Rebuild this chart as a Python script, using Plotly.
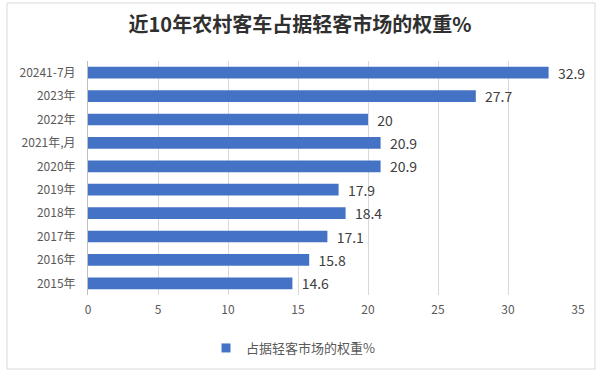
import plotly.graph_objects as go

categories = ["2015年", "2016年", "2017年", "2018年", "2019年", "2020年", "2021年,月", "2022年", "2023年", "20241-7月"]
values = [14.6, 15.8, 17.1, 18.4, 17.9, 20.9, 20.9, 20, 27.7, 32.9]
labels = ["14.6", "15.8", "17.1", "18.4", "17.9", "20.9", "20.9", "20", "27.7", "32.9"]
series_name = "占据轻客市场的权重%"
title = "近10年农村客车占据轻客市场的权重%"

font_family = "Noto Sans CJK SC, Noto Sans, sans-serif"
bar_color = "#4472C4"

fig = go.Figure()
fig.add_trace(go.Bar(
    y=categories, x=values, orientation="h", name=series_name, showlegend=False,
    marker=dict(color=bar_color, line=dict(width=0)),
    text=labels, texttemplate="\u00a0\u00a0%{text}", textposition="outside",
    cliponaxis=False, constraintext="none",
    textfont=dict(size=14, color="#404040", family=font_family),
))
# legend entry (square swatch like the original)
fig.add_trace(go.Scatter(
    x=[None], y=[None], mode="markers", name=series_name, showlegend=True,
    marker=dict(symbol="square", size=9, color=bar_color),
))

L, R, T, B = 88, 22, 61, 80
W, H = 600, 375
pw, ph = W - L - R, H - T - B
def px(x): return (x - L) / pw
def py(y): return 1 - (y - T) / ph

fig.update_layout(
    width=W, height=H,
    margin=dict(l=L, r=R, t=T, b=B, autoexpand=False),
    paper_bgcolor="white", plot_bgcolor="white",
    font=dict(family=font_family, color="#595959", size=12),
    title=dict(text="<b>" + title + "</b>", x=0.5, xanchor="center", y=1 - 25 / H, yanchor="middle",
               font=dict(size=20, color="#303030", family=font_family)),
    bargap=0.5,
    showlegend=True,
    legend=dict(orientation="h", x=px(293), xanchor="center", y=py(348), yanchor="middle",
                font=dict(size=13, color="#595959")),
    xaxis=dict(range=[0, 35], dtick=5, showgrid=True, gridcolor="#D9D9D9", gridwidth=1,
               zeroline=False, showline=False, ticks="", automargin=False,
               ticklabelstandoff=6, tickfont=dict(size=12, color="#595959")),
    yaxis=dict(type="category", showgrid=False, showline=True, linecolor="#BFBFBF", linewidth=1, ticks="",
               automargin=False, ticklabelstandoff=9, tickfont=dict(size=12, color="#595959")),
    shapes=[dict(type="rect", xref="paper", yref="paper",
                 x0=px(7), x1=px(595), y0=py(369), y1=py(3),
                 line=dict(color="#D9D9D9", width=1))],
)

fig.write_html("out.html", config={"displayModeBar": False},
               post_script="document.body.style.margin='0';document.body.style.overflow='hidden';")
